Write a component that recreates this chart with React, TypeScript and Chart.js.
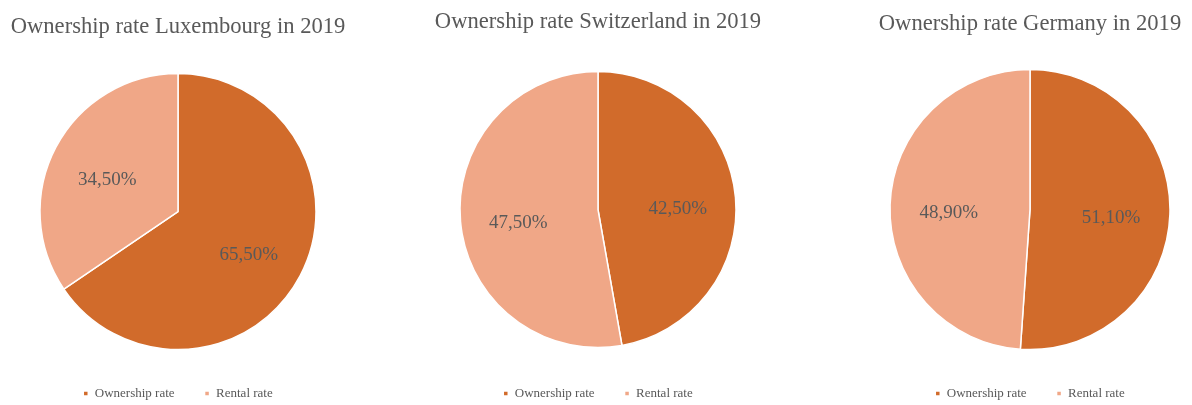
import React, { useEffect, useRef } from 'react';
import { Chart, registerables } from 'chart.js';

Chart.register(...registerables);

// ---- data ----
const categories = ['Ownership rate', 'Rental rate'];
const luxembourgValues = [65.5, 34.5];
const switzerlandValues = [42.5, 47.5];
const germanyValues = [51.1, 48.9];
const chartTitles = [
  'Ownership rate Luxembourg in 2019',
  'Ownership rate Switzerland in 2019',
  'Ownership rate Germany in 2019',
];

// ---- styles ----
const sliceColors = ['#D16B2B', '#F0A787'];
const textColor = '#595959';
const serif = '"Liberation Serif", "Times New Roman", serif';

const panels = [
  { values: luxembourgValues, title: chartTitles[0], left: 0, width: 356, radius: 138, titleTop: 14, titleBottom: 25 },
  { values: switzerlandValues, title: chartTitles[1], left: 420, width: 356, radius: 138, titleTop: 9, titleBottom: 26 },
  { values: germanyValues, title: chartTitles[2], left: 868, width: 324, radius: 140, titleTop: 11, titleBottom: 24 },
];

const fmt = (v: number) => v.toFixed(2).replace('.', ',') + '%';

const sliceLabels = {
  id: 'sliceLabels',
  afterDatasetsDraw(chart: any) {
    const ctx = chart.ctx;
    const meta = chart.getDatasetMeta(0);
    const data = chart.data.datasets[0].data as number[];
    ctx.save();
    ctx.font = `19px ${serif}`;
    ctx.fillStyle = textColor;
    ctx.textAlign = 'center';
    ctx.textBaseline = 'middle';
    meta.data.forEach((arc: any, i: number) => {
      const p = arc.getProps(['x', 'y', 'startAngle', 'endAngle', 'outerRadius'], true);
      const mid = (p.startAngle + p.endAngle) / 2;
      const r = p.outerRadius * 0.58;
      ctx.fillText(fmt(data[i]), p.x + Math.cos(mid) * r, p.y + Math.sin(mid) * r + 6);
    });
    ctx.restore();
  },
};

function PieChart({ panel }: { panel: (typeof panels)[number] }) {
  const ref = useRef<HTMLCanvasElement | null>(null);
  useEffect(() => {
    if (!ref.current) return;
    const chart = new Chart(ref.current, {
      type: 'pie',
      data: {
        labels: categories,
        datasets: [
          {
            data: panel.values,
            backgroundColor: sliceColors,
            borderColor: '#ffffff',
            borderWidth: 1.5,
            radius: panel.radius,
          } as any,
        ],
      },
      options: {
        animation: false,
        responsive: false,
        devicePixelRatio: 1,
        layout: { padding: { bottom: -5 } },
        plugins: {
          title: {
            display: true,
            text: panel.title,
            color: textColor,
            font: { family: serif, size: 22.6, weight: 'normal' },
            padding: { top: panel.titleTop, bottom: panel.titleBottom },
          },
          legend: {
            display: true,
            position: 'bottom',
            labels: {
              color: textColor,
              font: { family: serif, size: 13 },
              boxWidth: 5,
              boxHeight: 5,
              padding: 30,
            },
          },
          tooltip: { enabled: false },
        },
      },
      plugins: [sliceLabels],
    });
    return () => chart.destroy();
  }, [panel]);
  return (
    <div style={{ position: 'absolute', left: panel.left, top: 0, width: panel.width, height: 405 }}>
      <canvas ref={ref} width={panel.width} height={405} style={{ display: 'block' }} />
    </div>
  );
}

export default function App() {
  return (
    <div style={{ position: 'fixed', left: 0, top: 0, width: 1192, height: 405, background: '#ffffff', overflow: 'hidden' }}>
      {panels.map((p, i) => (
        <PieChart key={i} panel={p} />
      ))}
    </div>
  );
}
